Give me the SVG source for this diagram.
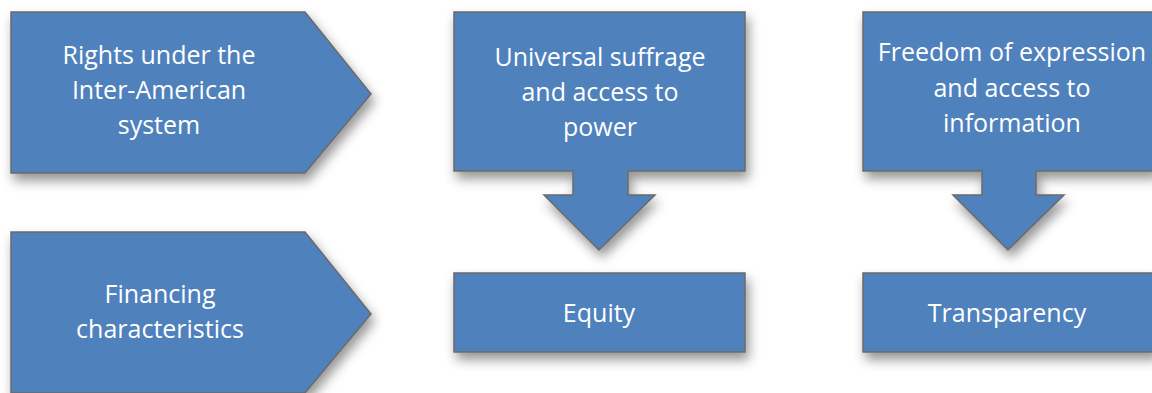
<svg xmlns="http://www.w3.org/2000/svg" width="1152" height="393" viewBox="0 0 1152 393">
<defs>
<filter id="sh" x="-20%" y="-20%" width="140%" height="150%">
<feDropShadow dx="3" dy="7" stdDeviation="6" flood-color="#000" flood-opacity="0.42"/>
</filter>
</defs>
<style>
.s{fill:#4F81BD;stroke:#6A6A6A;stroke-width:1.5;filter:url(#sh)}
.t{fill:#FFFFFF;font-family:"Open Sans","Noto Sans",sans-serif;font-size:25px;text-anchor:middle}
</style>
<rect width="1152" height="393" fill="#FFFFFF"/>
<g id="rights">
<path class="s" d="M11 12 H305 L371 94 L305 173 H11 Z"/>
<text class="t" x="159" y="64">Rights under the</text>
<text class="t" x="159" y="99">Inter-American</text>
<text class="t" x="159" y="134">system</text>
</g>
<g id="financing">
<path class="s" d="M11 232 H305 L371 314 L305 393 H11 Z"/>
<text class="t" x="160" y="303">Financing</text>
<text class="t" x="160" y="338">characteristics</text>
</g>
<g id="suffrage">
<path class="s" d="M454 12 H745 V171 H628 V195 H655 L599 250 L544 195 H573 V171 H454 Z"/>
<text class="t" x="600" y="66">Universal suffrage</text>
<text class="t" x="600" y="101">and access to</text>
<text class="t" x="600" y="136">power</text>
</g>
<g id="expression">
<path class="s" d="M863 12 H1155 V171 H1036 V195 H1064 L1008 250 L953 195 H982 V171 H863 Z"/>
<text class="t" x="1012" y="61">Freedom of expression</text>
<text class="t" x="1012" y="97">and access to</text>
<text class="t" x="1012" y="132">information</text>
</g>
<g id="equity">
<rect class="s" x="454" y="273" width="291" height="79"/>
<text class="t" x="599" y="322">Equity</text>
</g>
<g id="transparency">
<rect class="s" x="863" y="273" width="292" height="79"/>
<text class="t" x="1007" y="322">Transparency</text>
</g>
<g id="connectors"></g>
</svg>
